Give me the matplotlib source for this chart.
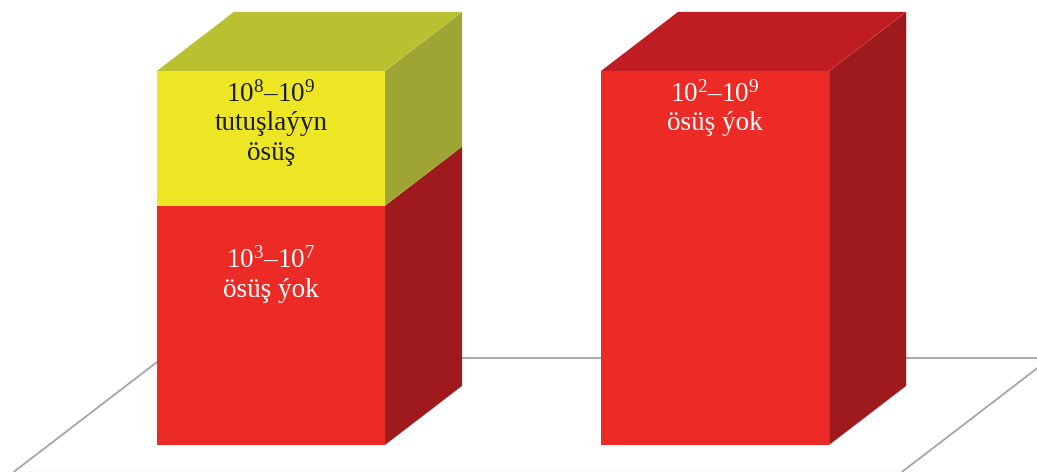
import numpy as np
import matplotlib.pyplot as plt
from matplotlib.patches import Polygon

plt.rcParams['mathtext.fontset'] = 'custom'
plt.rcParams['mathtext.rm'] = 'Liberation Serif'
plt.rcParams['mathtext.it'] = 'Liberation Serif:italic'
plt.rcParams['mathtext.bf'] = 'Liberation Serif:bold'

# data: two stacked bars (share of the dilution range)
categories = [0, 1]
red_values = [64, 100]
yellow_values = [36, 0]
red_labels = ['10$^{\\mathrm{3}}$–10$^{\\mathrm{7}}$\nösüş ýok',
              '10$^{\\mathrm{2}}$–10$^{\\mathrm{9}}$\nösüş ýok']
yellow_labels = ['10$^{\\mathrm{8}}$–10$^{\\mathrm{9}}$\ntutuşlaýyn\nösüş', '']

# 3d look
width = 0.514
ddx, ddy = 0.1735, 15.8  # depth offset for one bar depth
floor_front, floor_back = -0.45, 1.47

red = {'front': '#ec2b27', 'side': '#9f1a1d', 'top': '#c01d22'}
yellow = {'front': '#ece624', 'side': '#9ea534', 'top': '#bac131'}


def box(ax, x0, x1, y0, y1, colors, top=True):
    front = [(x0, y0), (x1, y0), (x1, y1), (x0, y1)]
    side = [(x1, y0), (x1 + ddx, y0 + ddy), (x1 + ddx, y1 + ddy), (x1, y1)]
    ax.add_patch(Polygon(front, closed=True, fc=colors['front'], ec='none', zorder=3))
    ax.add_patch(Polygon(side, closed=True, fc=colors['side'], ec='none', zorder=3))
    if top:
        topf = [(x0, y1), (x1, y1), (x1 + ddx, y1 + ddy), (x0 + ddx, y1 + ddy)]
        ax.add_patch(Polygon(topf, closed=True, fc=colors['top'], ec='none', zorder=3))


fig, ax = plt.subplots(figsize=(10.37, 4.72), dpi=100)
fig.subplots_adjust(0, 0, 1, 1)
ax.set_xlim(-0.610, 1.725)
ax.set_ylim(-7.22, 118.98)
ax.axis('off')

# floor
fl, fr = categories[0] - 0.5, categories[-1] + 0.5
gc = '#a3a3a3'
ax.plot([fl + floor_back * ddx, fr + floor_back * ddx], [floor_back * ddy] * 2, color=gc, lw=1.3, zorder=1)
ax.plot([fl + floor_front * ddx, fl + floor_back * ddx], [floor_front * ddy, floor_back * ddy], color=gc, lw=1.3, zorder=1)
ax.plot([fr + floor_front * ddx, fr + floor_back * ddx], [floor_front * ddy, floor_back * ddy], color=gc, lw=1.3, zorder=1)
ax.plot([fl + floor_front * ddx, fr + floor_front * ddx], [floor_front * ddy] * 2, color='#dddddd', lw=1.0, zorder=1)

txt = dict(family='Liberation Serif', fontsize=19.5, ha='center', va='top', linespacing=1.22)
red_offsets = [-30, -7]
for i, c in enumerate(categories):
    x0, x1 = c - width / 2, c + width / 2
    r, yv = red_values[i], yellow_values[i]
    box(ax, x0, x1, 0, r, red, top=(yv == 0))
    if yv > 0:
        box(ax, x0, x1, r, r + yv, yellow, top=True)
        ax.annotate(yellow_labels[i], (c, r + yv), xytext=(0, -7), textcoords='offset points',
                    color='#1a1a1a', zorder=5, **txt)
    ax.annotate(red_labels[i], (c, r), xytext=(0, red_offsets[i]), textcoords='offset points',
                color='white', zorder=5, **txt)

fig.savefig('out.png', dpi=100)
